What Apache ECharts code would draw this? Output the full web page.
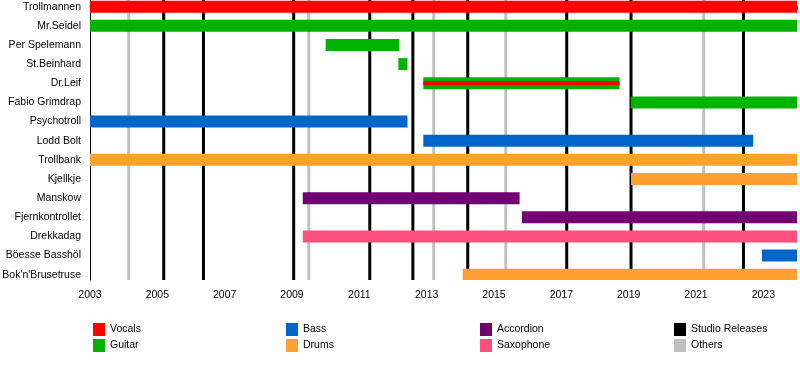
<!DOCTYPE html>
<html>
<head>
<meta charset="utf-8">
<script src="https://cdn.jsdelivr.net/npm/echarts@6/dist/echarts.min.js"></script>
<style>
html,body{margin:0;padding:0;background:#fff;}
#chart{width:800px;height:380px;}
</style>
</head>
<body>
<div id="chart"></div>
<script>
// ---- data ----
const members = ["Trollmannen","Mr.Seidel","Per Spelemann","St.Beinhard","Dr.Leif","Fabio Grimdrap","Psychotroll","Lodd Bolt","Trollbank","Kjellkje","Manskow","Fjernkontrollet","Drekkadag","Böesse Basshöl","Bok'n'Brusetruse"];
// [memberIndex, startYear, endYear]
const vocals = [[0, 2003, 2024]];
const vocalsSecondary = [[4, 2012.9, 2018.73]];
const guitar = [[1, 2003, 2024],[2, 2010.0, 2012.19],[3, 2012.16, 2012.43],[4, 2012.9, 2018.73],[5, 2019.06, 2024]];
const bass = [[6, 2003, 2012.43],[7, 2012.9, 2022.7],[13, 2022.96, 2024]];
const drums = [[8, 2003, 2024],[9, 2019.07, 2024],[14, 2014.07, 2024]];
const accordion = [[10, 2009.32, 2015.76],[11, 2015.83, 2024]];
const saxophone = [[12, 2009.32, 2024]];
const studioReleases = [2005.19, 2006.37, 2009.05, 2011.31, 2012.59, 2014.22, 2017.16, 2019.07, 2022.41];
const otherReleases = [2004.15, 2009.50, 2013.21, 2015.35, 2021.23];
const yearLabels = [2003,2005,2007,2009,2011,2013,2015,2017,2019,2021,2023];
const yearTicks = [2004,2006,2008,2010,2012,2014,2016,2018,2020,2022,2024];

const FONT = "'Liberation Sans',Arial,sans-serif";
const colors = {Vocals:'#ff0000', Guitar:'#00b200', Bass:'#0066cc', Drums:'#ffa030', Accordion:'#730073', Saxophone:'#ff4f80', 'Studio Releases':'#000000', Others:'#c0c0c0'};

function barSeries(name, data, h, z){
  return {
    type:'custom', name:name, data:data, z:z, clip:true,
    itemStyle:{color:colors[name]},
    encode:{x:[1,2], y:0},
    renderItem:function(params, api){
      const s = api.coord([api.value(1), api.value(0)]);
      const e = api.coord([api.value(2), api.value(0)]);
      return {type:'rect', shape:{x:s[0], y:s[1]-h/2, width:e[0]-s[0], height:h}, style:{fill:colors[name]}};
    }
  };
}
function lineSeries(name, years){
  return {
    type:'custom', name:name, z:1, clip:true, itemStyle:{color:colors[name]},
    data: years.map(y => [y]),
    encode:{x:0},
    renderItem:function(params, api){
      const cs = params.coordSys;
      const x = api.coord([api.value(0), 0])[0];
      return {type:'line', shape:{x1:x, y1:cs.y, x2:x, y2:cs.y+cs.height},
        style:{stroke:colors[name], lineWidth:3}};
    }
  };
}

const chart = echarts.init(document.getElementById('chart'), null, {renderer:'canvas'});
const legendBase = {orient:'vertical', top:318, icon:'rect', itemWidth:12, itemHeight:13, itemGap:3,
  textStyle:{fontFamily:FONT, fontSize:10.5, color:'#000'}, selectedMode:false};
chart.setOption({
  animation:false,
  grid:{left:90, right:3, top:0, bottom:100, containLabel:false, outerBoundsMode:'none'},
  xAxis:{type:'value', min:2003, max:2024,
    axisLine:{show:true, lineStyle:{color:'#000', width:1}},
    axisTick:{show:true, length:3, lineStyle:{color:'#000'}, customValues:yearTicks},
    axisLabel:{show:true, customValues:yearLabels, formatter:v=>String(v), color:'#000', fontFamily:FONT, fontSize:10.5, margin:10},
    splitLine:{show:false}},
  yAxis:{type:'value', inverse:true, min:-0.347, max:14.274,
    axisLine:{show:true, lineStyle:{color:'#000', width:1}},
    axisTick:{show:false},
    axisLabel:{show:true, customValues:members.map((m,i)=>i), formatter:v=>members[Math.round(v)],
      color:'#000', fontFamily:FONT, fontSize:10.5, margin:9},
    splitLine:{show:false}},
  legend:[
    Object.assign({}, legendBase, {left:88, data:['Vocals','Guitar']}),
    Object.assign({}, legendBase, {left:281, data:['Bass','Drums']}),
    Object.assign({}, legendBase, {left:475, data:['Accordion','Saxophone']}),
    Object.assign({}, legendBase, {left:669, data:['Studio Releases','Others']})
  ],
  series:[
    lineSeries('Studio Releases', studioReleases),
    lineSeries('Others', otherReleases),
    barSeries('Vocals', vocals, 12, 3),
    barSeries('Guitar', guitar, 12, 3),
    barSeries('Vocals', vocalsSecondary, 4, 4),
    barSeries('Bass', bass, 12, 3),
    barSeries('Drums', drums, 12, 3),
    barSeries('Accordion', accordion, 12, 3),
    barSeries('Saxophone', saxophone, 12, 3)
  ]
});
</script>
</body>
</html>
